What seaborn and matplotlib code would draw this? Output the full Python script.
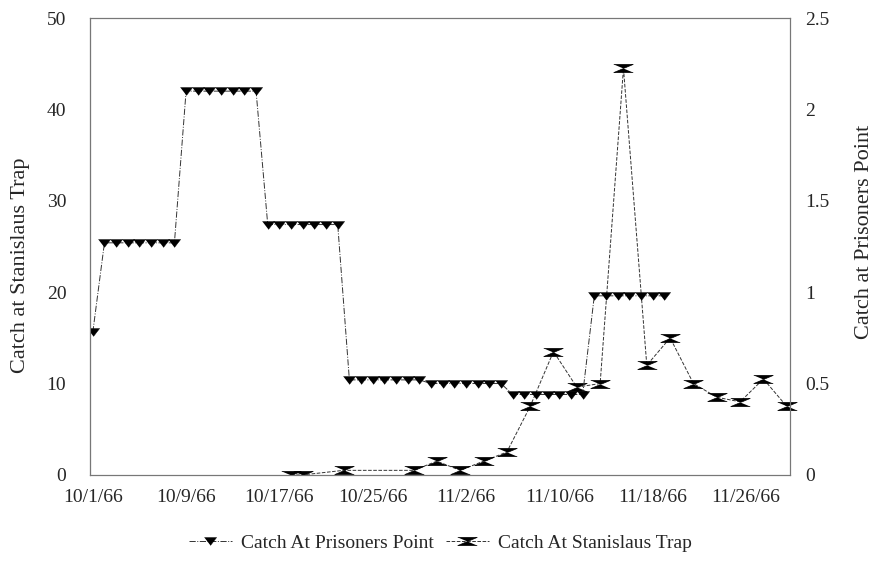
import matplotlib
matplotlib.use("Agg")
import matplotlib.pyplot as plt
from matplotlib.transforms import Bbox, TransformedBbox
import pandas as pd
import seaborn as sns

# Prisoners Point (right axis) - one value per day, 10/1/66 .. 11/19/66
pp_dates = pd.date_range("1966-10-01", "1966-11-19", freq="D")
pp_catch = [0.78,
            1.27, 1.27, 1.27, 1.27, 1.27, 1.27, 1.27,
            2.10, 2.10, 2.10, 2.10, 2.10, 2.10, 2.10,
            1.37, 1.37, 1.37, 1.37, 1.37, 1.37, 1.37,
            0.52, 0.52, 0.52, 0.52, 0.52, 0.52, 0.52,
            0.50, 0.50, 0.50, 0.50, 0.50, 0.50, 0.50,
            0.44, 0.44, 0.44, 0.44, 0.44, 0.44, 0.44,
            0.98, 0.98, 0.98, 0.98, 0.98, 0.98, 0.98]

# Stanislaus Trap (left axis)
st_dates = pd.to_datetime([
    "1966-10-18 00:00", "1966-10-19 00:00", "1966-10-22 12:00", "1966-10-28 12:00",
    "1966-10-30 12:00", "1966-11-01 12:00", "1966-11-03 12:00", "1966-11-05 12:00",
    "1966-11-07 12:00", "1966-11-09 12:00", "1966-11-11 12:00", "1966-11-13 12:00",
    "1966-11-15 12:00", "1966-11-17 12:00", "1966-11-19 12:00", "1966-11-21 12:00",
    "1966-11-23 12:00", "1966-11-25 12:00", "1966-11-27 12:00", "1966-11-29 12:00"])
st_catch = [0, 0, 0.5, 0.5, 1.5, 0.5, 1.5, 2.5, 7.5, 13.5,
            9.6, 10, 44.5, 12, 15, 10, 8.5, 8, 10.5, 7.5]

tick_dates = pd.to_datetime(["1966-10-01", "1966-10-09", "1966-10-17", "1966-10-25",
                             "1966-11-02", "1966-11-10", "1966-11-18", "1966-11-26"])
tick_labels = ["10/1/66", "10/9/66", "10/17/66", "10/25/66",
               "11/2/66", "11/10/66", "11/18/66", "11/26/66"]

sns.set_theme(style="white")
plt.rcParams["font.family"] = ["Liberation Serif", "DejaVu Serif"]

tri = [(-1, 0.65), (1, 0.65), (0, -0.65)]
hourglass = [(-1, 0.42), (1, 0.42), (-1, -0.42), (1, -0.42)]

fig = plt.figure(figsize=(8.81, 5.82), dpi=100)
ax = fig.add_axes([0.102, 0.184, 0.795, 0.785])
ax2 = ax.twinx()

df_st = pd.DataFrame({"date": st_dates, "catch": st_catch})
df_pp = pd.DataFrame({"date": pp_dates, "catch": pp_catch})

sns.lineplot(data=df_st, x="date", y="catch", ax=ax, color="#333333", linewidth=0.7,
             linestyle="--", marker=hourglass, markersize=14, markerfacecolor="black",
             markeredgecolor="black", markeredgewidth=0.5, label="Catch At Stanislaus Trap",
             legend=False)
sns.lineplot(data=df_pp, x="date", y="catch", ax=ax2, color="#333333", linewidth=0.7,
             linestyle="-.", marker=tri, markersize=8.8, markerfacecolor="black",
             markeredgecolor="black", markeredgewidth=0.3, label="Catch At Prisoners Point",
             legend=False)

# let the last Stanislaus marker spill past the right edge, but keep the bottom clip
for ln in ax.lines:
    ln.set_clip_box(TransformedBbox(Bbox([[-0.05, 0], [1.05, 1.05]]), ax.transAxes))

start = pd.Timestamp("1966-10-01")
ax.set_xlim(start - pd.Timedelta(hours=6), start + pd.Timedelta(days=59.8))
ax.set_ylim(0, 50)
ax2.set_ylim(0, 2.5)
ax.set_yticks([0, 10, 20, 30, 40, 50])
ax2.set_yticks([0, 0.5, 1, 1.5, 2, 2.5])
ax2.set_yticklabels(["0", "0.5", "1", "1.5", "2", "2.5"])
ax.set_xticks(tick_dates)
ax.set_xticklabels(tick_labels)

ax.set_xlabel("")
ax.set_ylabel("Catch at Stanislaus Trap", fontsize=16)
ax2.set_ylabel("Catch at Prisoners Point", fontsize=16, rotation=90)
ax.yaxis.set_label_coords(-0.085, 0.46)
ax2.yaxis.set_label_coords(1.093, 0.532)
ax.tick_params(axis="y", length=0, pad=17, labelsize=14)
ax2.tick_params(axis="y", length=0, pad=11, labelsize=14)
ax.tick_params(axis="x", length=3, direction="in", pad=10, labelsize=14, color="#777777")

for a in (ax, ax2):
    for s in a.spines.values():
        s.set_color("#777777")
        s.set_linewidth(0.8)
ax.spines["left"].set_color("#333333")

# legend
h1, l1 = ax2.get_legend_handles_labels()
h2, l2 = ax.get_legend_handles_labels()
fig.legend(h1 + h2, l1 + l2, loc="center", bbox_to_anchor=(0.5, 0.067), ncol=2,
           frameon=False, fontsize=14, handlelength=2.2, columnspacing=0.6,
           handletextpad=0.5)

fig.savefig("out.png", dpi=100)
